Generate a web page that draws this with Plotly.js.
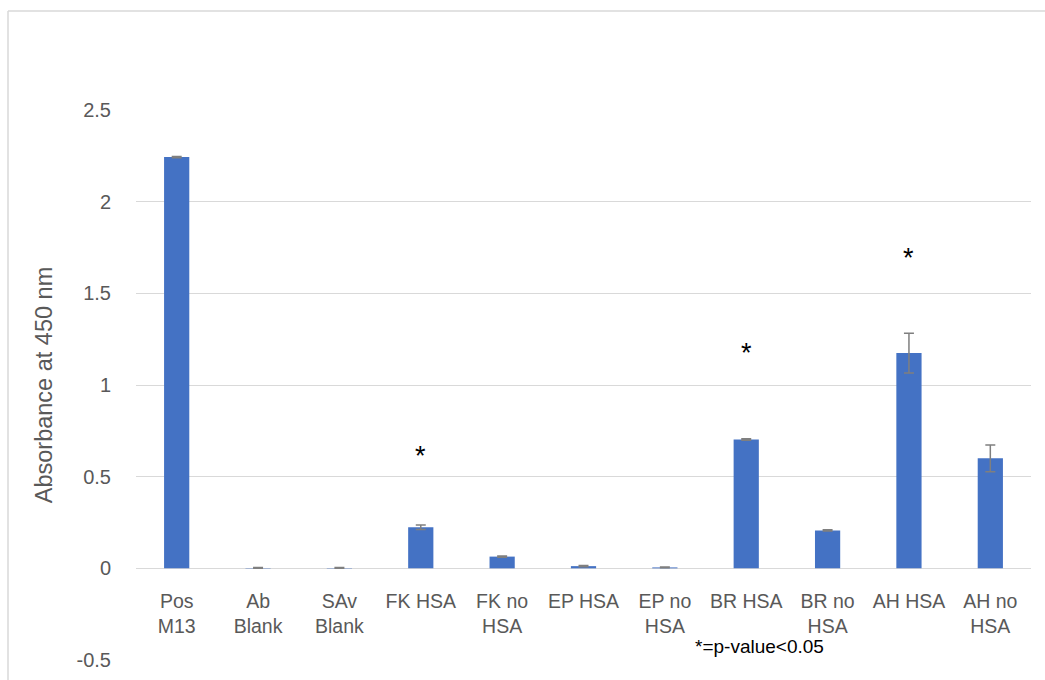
<!DOCTYPE html>
<html>
<head>
<meta charset="utf-8">
<script src="https://cdn.plot.ly/plotly-3.0.1.min.js"></script>
<style>html,body{margin:0;padding:0;background:#fff;}#chart{width:1045px;height:680px;}</style>
</head>
<body>
<div id="chart"></div>
<script>
const categories = ["Pos<br>M13", "Ab<br>Blank", "SAv<br>Blank", "FK HSA", "FK no<br>HSA", "EP HSA", "EP no<br>HSA", "BR HSA", "BR no<br>HSA", "AH HSA", "AH no<br>HSA"];
const absorbance = [2.243, 0.002, 0.002, 0.224, 0.064, 0.012, 0.005, 0.703, 0.207, 1.174, 0.600];
const errors = [0.003, 0.002, 0.002, 0.012, 0.003, 0.003, 0.002, 0.004, 0.003, 0.108, 0.073];
const sigCategories = ["FK HSA", "BR HSA", "AH HSA"];
const sigMarkY = [0.612, 1.175, 1.695];
const yTicks = [-0.5, 0, 0.5, 1, 1.5, 2, 2.5];
const yTickText = ["-0.5", "0", "0.5", "1", "1.5", "2", "2.5"];

const font = "'Liberation Sans', Arial, sans-serif";

const trace = {
  type: "bar",
  x: categories,
  y: absorbance,
  marker: {color: "#4472C4"},
  error_y: {type: "data", array: errors, visible: true, color: "#7f7f7f", thickness: 1.5, width: 5},
  hoverinfo: "x+y"
};

const annotations = sigCategories.map((c, i) => ({
  x: categories.indexOf(c), xref: "x", y: sigMarkY[i], yref: "y",
  text: "*", showarrow: false, xanchor: "center", yanchor: "middle",
  font: {family: font, size: 27, color: "#000"}
}));
annotations.push({
  x: 0.697, xref: "paper", y: -0.424, yref: "y",
  text: "*=p-value<0.05", showarrow: false, xanchor: "center", yanchor: "middle",
  font: {family: font, size: 19, color: "#000"}
});

const layout = {
  width: 1045, height: 680,
  margin: {l: 136, r: 14, t: 110, b: 20},
  paper_bgcolor: "#fff", plot_bgcolor: "#fff",
  showlegend: false,
  bargap: 0.69,
  font: {family: font, size: 19.5, color: "#595959"},
  xaxis: {
    type: "category",
    anchor: "free", position: 1/6,
    showgrid: false, showline: false,
    ticks: "outside", ticklen: 15, tickcolor: "rgba(0,0,0,0)",
    tickfont: {family: font, size: 19.5, color: "#595959"},
    fixedrange: true
  },
  yaxis: {
    range: [-0.5, 2.5],
    tickvals: yTicks, ticktext: yTickText,
    showgrid: true, gridcolor: "#d9d9d9", gridwidth: 1,
    zeroline: true, zerolinecolor: "#d9d9d9", zerolinewidth: 1.5,
    showline: false,
    ticks: "outside", ticklen: 20, tickcolor: "rgba(0,0,0,0)",
    tickfont: {family: font, size: 20, color: "#595959"},
    title: {text: "Absorbance at 450 nm", font: {family: font, size: 23.5, color: "#595959"}, standoff: 17},
    fixedrange: true
  },
  annotations: annotations,
  shapes: [
    {type: "line", xref: "paper", yref: "paper", x0: (8-136)/895, x1: 1.2, y0: (660-11)/550, y1: (660-11)/550, line: {color: "#d9d9d9", width: 1.5}},
    {type: "line", xref: "paper", yref: "paper", x0: (8-136)/895, x1: (8-136)/895, y0: (660-11)/550, y1: -0.2, line: {color: "#d9d9d9", width: 1.5}}
  ]
};

Plotly.newPlot("chart", [trace], layout, {displayModeBar: false, staticPlot: true});
</script>
</body>
</html>
